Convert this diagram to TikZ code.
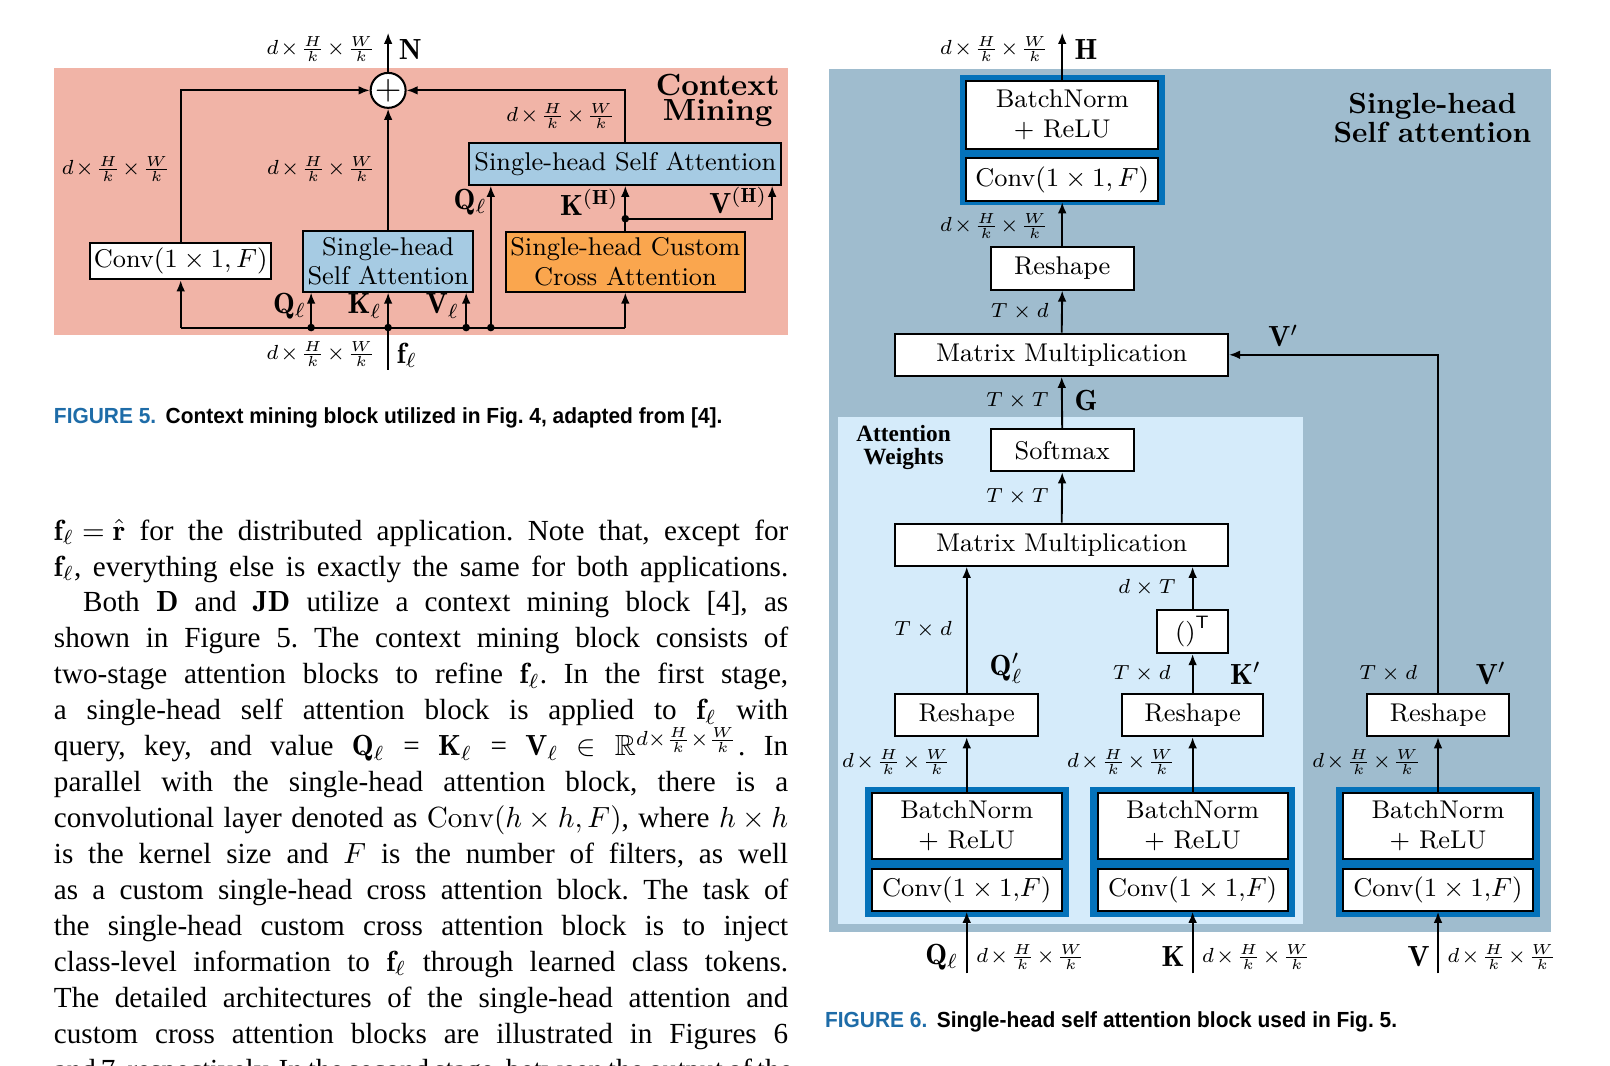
\documentclass[tikz,border=0pt]{standalone}
\usepackage{amsmath,amssymb}
\usepackage{graphicx}
\usepackage{fontspec}
\newfontfamily\bodyfont{Liberation Serif}
\newfontfamily\capfont{Liberation Sans}
\usetikzlibrary{arrows.meta}
\definecolor{pinkbg}{RGB}{241,180,167}
\definecolor{sabg}{RGB}{159,188,206}
\definecolor{awbg}{RGB}{213,235,250}
\definecolor{shsa}{RGB}{166,203,227}
\definecolor{orng}{RGB}{250,166,78}
\definecolor{frblue}{RGB}{4,114,186}
\definecolor{capblue}{RGB}{30,108,168}
\newcommand\dims{$\medmuskip=1.5mu d\times\frac{H}{k}\times\frac{W}{k}$}
\newcommand\dfont{\fontsize{8.8}{10.2}\selectfont}
\newcommand\lfont{\fontsize{7.4}{8}\selectfont}
\newcommand\bfont{\fontsize{10}{12}\selectfont}
\newcommand\txtfont{\bodyfont\fontsize{10}{12}\selectfont\thickmuskip=5mu\medmuskip=4mu}
\newcommand\bl[1]{\makebox[252pt][s]{#1}}
\frenchspacing
\begin{document}
\begin{tikzpicture}[x=0.3524pt,y=-0.3524pt,
  sz/.style 2 args={minimum width=#1*0.3524pt, minimum height=#2*0.3524pt},
  wbox/.style={draw, fill=white, line width=0.7pt, inner sep=0pt, align=center, font=\dfont},
  frm/.style={fill=frblue, inner sep=0pt},
  arr/.style={-{Latex[length=3.8pt,width=3pt]}, line width=0.65pt},
  ln/.style={line width=0.65pt},
  lab/.style={inner sep=0pt, font=\lfont},
  blab/.style={inner sep=0pt, font=\bfont},
  jdot/.style={circle, fill, inner sep=0pt, minimum size=2.6pt},
  bline/.style={anchor=base west, inner sep=0pt, font=\txtfont}]
\useasboundingbox (0,0) rectangle (1568,1038);
\clip (0,0) rectangle (1568,1038);

% ================= FIGURE 5 =================
\fill[pinkbg] (53,66) rectangle (767,326);
\node[wbox, sz={176}{35}] (conv5) at (176,254.5) {Conv$(1\times 1,F)$};
\node[wbox, fill=shsa, sz={166}{59}] (shsa5) at (378,254.5) {Single-head\\Self Attention};
\node[wbox, fill=shsa, sz={304}{41}] (big5) at (609,159.5) {Single-head Self Attention};
\node[wbox, fill=orng, sz={233}{58}] (cca5) at (609,255) {Single-head Custom\\Cross Attention};
\node[draw, fill=white, circle, line width=0.7pt, minimum size=12pt, inner sep=0pt, font=\fontsize{12}{12}\selectfont] (sum) at (378,88) {$+$};
\node[inner sep=0pt, align=center, font=\bfseries\fontsize{10.5}{8.6}\selectfont] (cmt) at (699,98) {Context\\Mining};

\coordinate (bL) at (176,319);
\coordinate (bQ) at (303,319);
\coordinate (bK) at (378,319);
\coordinate (bV) at (454,319);
\coordinate (bQ2) at (478,319);
\coordinate (bR) at (609,319);
\coordinate (fin) at (378,360);
\coordinate (kh) at (609,213);
\coordinate (vh) at (752,213);
\coordinate (nout) at (378,32);

\draw[ln] (bL) -- (bR);
\draw[ln] (fin) -- (bK);
\draw[arr] (bL) -- (conv5.south);
\draw[arr] (bQ) -- (bQ |- shsa5.south);
\draw[arr] (bK) -- (shsa5.south);
\draw[arr] (bV) -- (bV |- shsa5.south);
\draw[arr] (bQ2) -- (bQ2 |- big5.south);
\draw[arr] (bR) -- (cca5.south);
\draw[arr] (cca5.north) -- (big5.south);
\draw[arr] (kh) -- (vh) -- (vh |- big5.south);
\draw[arr] (conv5.north) |- (sum.west);
\draw[arr] (shsa5.north) -- (sum.south);
\draw[arr] (big5.north) |- (sum.east);
\draw[arr] (sum.north) -- (nout);
\foreach \p in {bQ,bK,bV,bQ2,kh} \node[jdot] at (\p) {};

\node[lab, anchor=east] (l5a) at (366,48) {\dims};
\node[blab, anchor=west] (l5n) at (388,48) {$\mathbf{N}$};
\node[lab] (l5b) at (113,165) {\dims};
\node[lab] (l5c) at (313,165) {\dims};
\node[lab] (l5d) at (546,113) {\dims};
\node[blab] (l5q2) at (458,197) {$\mathbf{Q}_\ell$};
\node[blab] (l5kh) at (574,197) {$\mathbf{K}^{(\mathbf{H})}$};
\node[blab] (l5vh) at (719,195) {$\mathbf{V}^{(\mathbf{H})}$};
\node[blab] (l5q) at (282,298) {$\mathbf{Q}_\ell$};
\node[blab] (l5k) at (355,298) {$\mathbf{K}_\ell$};
\node[blab] (l5v) at (431,298) {$\mathbf{V}_\ell$};
\node[lab, anchor=east] (l5e) at (366,345) {\dims};
\node[blab, anchor=west] (l5f) at (386,346) {$\mathbf{f}_\ell$};

\node[anchor=base west, inner sep=0pt, font=\capfont\bfseries\fontsize{7.5}{9}\selectfont] (cap5) at (52,412)
  {\resizebox{229.4pt}{\height}{\textcolor{capblue}{FIGURE 5.}\hspace{0.45em}Context mining block utilized in Fig. 4, adapted from [4].}};

% ================= FIGURE 6 =================
\fill[sabg] (807,67) rectangle (1511,908);
\fill[awbg] (816,406) rectangle (1269,900);
\node[inner sep=0pt, align=center, font=\bfseries\fontsize{10}{10.2}\selectfont] (t6) at (1395,115) {Single-head\\Self attention};
\node[inner sep=0pt, align=center, font=\bodyfont\bfseries\fontsize{8}{7.8}\selectfont] (aw) at (880,436) {Attention\\Weights};

\node[frm, sz={200}{127}] (frT) at (1035,136.5) {};
\node[wbox, sz={187}{66}] (bnT) at (1034.5,112) {BatchNorm\\+ ReLU};
\node[wbox, sz={187}{42}] (cvT) at (1034.5,175) {Conv$(1\times 1, F)$};
\node[wbox, sz={139}{41}] (rsT) at (1034.5,261.5) {Reshape};
\node[wbox, sz={324}{41}] (mmT) at (1034,345.5) {Matrix Multiplication};
\node[wbox, sz={139}{41}] (smx) at (1034.5,438.5) {Softmax};
\node[wbox, sz={324}{41}] (mm2) at (1034,530.5) {Matrix Multiplication};
\node[wbox, sz={69}{42}] (tr) at (1161.5,615) {()$^{\mathsf{T}}$};
\node[wbox, sz={139}{41}] (rsQ) at (941.5,696.5) {Reshape};
\node[wbox, sz={138}{41}] (rsK) at (1161.5,696.5) {Reshape};
\node[wbox, sz={138}{41}] (rsV) at (1400.5,696.5) {Reshape};

\node[frm, sz={199}{127}] (frQ) at (941.5,829.5) {};
\node[wbox, sz={185}{65}] (bnQ) at (941.5,804.5) {BatchNorm\\+ ReLU};
\node[wbox, sz={185}{41}] (cvQ) at (941.5,866.5) {Conv$(1\times 1$,$F)$};
\node[frm, sz={199}{127}] (frK) at (1161.5,829.5) {};
\node[wbox, sz={185}{65}] (bnK) at (1161.5,804.5) {BatchNorm\\+ ReLU};
\node[wbox, sz={185}{41}] (cvK) at (1161.5,866.5) {Conv$(1\times 1$,$F)$};
\node[frm, sz={199}{127}] (frV) at (1400.5,829.5) {};
\node[wbox, sz={185}{65}] (bnV) at (1400.5,804.5) {BatchNorm\\+ ReLU};
\node[wbox, sz={185}{41}] (cvV) at (1400.5,866.5) {Conv$(1\times 1$,$F)$};

\coordinate (inQ) at (941.5,948);
\coordinate (inK) at (1161.5,948);
\coordinate (inV) at (1400.5,948);
\coordinate (hout) at (1034.5,32);

\draw[arr] (inQ) -- (cvQ.south);
\draw[arr] (inK) -- (cvK.south);
\draw[arr] (inV) -- (cvV.south);
\draw[arr] (bnQ.north) -- (rsQ.south);
\draw[arr] (bnK.north) -- (rsK.south);
\draw[arr] (bnV.north) -- (rsV.south);
\draw[arr] (rsQ.north) -- (rsQ.north |- mm2.south);
\draw[arr] (rsK.north) -- (tr.south);
\draw[arr] (tr.north) -- (tr.north |- mm2.south);
\draw[arr] (mm2.north) -- (smx.south);
\draw[arr] (smx.north) -- (mmT.south);
\draw[arr] (rsV.north) |- (mmT.east);
\draw[arr] (mmT.north) -- (rsT.south);
\draw[arr] (rsT.north) -- (cvT.south);
\draw[arr] (bnT.north) -- (hout);

\node[lab, anchor=east] (l6a) at (1022,48) {\dims};
\node[blab, anchor=west] (l6h) at (1046,48) {$\mathbf{H}$};
\node[lab, anchor=east] (l6b) at (1022,220) {\dims};
\node[lab, anchor=east] (l6c) at (1022,303) {$T\times d$};
\node[blab] (l6v1) at (1250,327) {$\mathbf{V}'$};
\node[lab, anchor=east] (l6d) at (1022,390) {$T\times T$};
\node[blab, anchor=west] (l6g) at (1046,390) {$\mathbf{G}$};
\node[lab, anchor=east] (l6e) at (1022,484) {$T\times T$};
\node[lab] (l6f) at (899,613) {$T\times d$};
\node[blab] (l6q) at (980,651) {$\mathbf{Q}'_\ell$};
\node[lab] (l6g2) at (1117,572) {$d\times T$};
\node[lab] (l6h2) at (1112,656) {$T\times d$};
\node[blab] (l6k) at (1213,656) {$\mathbf{K}'$};
\node[lab] (l6i) at (1352,656) {$T\times d$};
\node[blab] (l6v2) at (1452,656) {$\mathbf{V}'$};
\node[lab] (l6j) at (873,742) {\dims};
\node[lab] (l6k2) at (1092,742) {\dims};
\node[lab] (l6l) at (1331,742) {\dims};
\node[blab, anchor=east] (l6qi) at (934,932) {$\mathbf{Q}_\ell$};
\node[lab, anchor=west] (l6qd) at (950,932) {\dims};
\node[blab, anchor=east] (l6ki) at (1154,932) {$\mathbf{K}$};
\node[lab, anchor=west] (l6kd) at (1170,932) {\dims};
\node[blab, anchor=east] (l6vi) at (1393,932) {$\mathbf{V}$};
\node[lab, anchor=west] (l6vd) at (1409,932) {\dims};

\node[anchor=base west, inner sep=0pt, font=\capfont\bfseries\fontsize{7.5}{9}\selectfont] (cap6) at (803,1001)
  {\resizebox{196.3pt}{\height}{\textcolor{capblue}{FIGURE 6.}\hspace{0.45em}Single-head self attention block used in Fig. 5.}};

% ================= BODY TEXT =================
\node[bline] (b1) at (52,526) {\bl{$\mathbf{f}_\ell=\hat{\mathbf{r}}$ for the distributed application. Note that, except for}};
\node[bline] (b2) at (52,561) {\bl{$\mathbf{f}_\ell$, everything else is exactly the same for both applications.}};
\node[bline] (b3) at (52,596) {\bl{\hspace*{10pt}Both $\mathbf{D}$ and $\mathbf{JD}$ utilize a context mining block [4], as}};
\node[bline] (b4) at (52,631) {\bl{shown in Figure 5. The context mining block consists of}};
\node[bline] (b5) at (52,666) {\bl{two-stage attention blocks to refine $\mathbf{f}_\ell$. In the first stage,}};
\node[bline] (b6) at (52,701) {\bl{a single-head self attention block is applied to $\mathbf{f}_\ell$ with}};
\node[bline] (b7) at (52,736) {\bl{query, key, and value $\mathbf{Q}_\ell$ = $\mathbf{K}_\ell$ = $\mathbf{V}_\ell$ $\in$ $\mathbb{R}^{d\times\frac{H}{k}\times\frac{W}{k}}$. In}};
\node[bline] (b8) at (52,771) {\bl{parallel with the single-head attention block, there is a}};
\node[bline] (b9) at (52,806) {\bl{convolutional layer denoted as $\mathrm{Conv}(h\times h,F)$, where $h\times h$}};
\node[bline] (b10) at (52,841) {\bl{is the kernel size and $F$ is the number of filters, as well}};
\node[bline] (b11) at (52,876) {\bl{as a custom single-head cross attention block. The task of}};
\node[bline] (b12) at (52,911) {\bl{the single-head custom cross attention block is to inject}};
\node[bline] (b13) at (52,946) {\bl{class-level information to $\mathbf{f}_\ell$ through learned class tokens.}};
\node[bline] (b14) at (52,981) {\bl{The detailed architectures of the single-head attention and}};
\node[bline] (b15) at (52,1016) {\bl{custom cross attention blocks are illustrated in Figures 6}};
\node[bline] (b16) at (52,1051) {\bl{and 7, respectively. In the second stage, between the output of the}};
\end{tikzpicture}
\end{document}
